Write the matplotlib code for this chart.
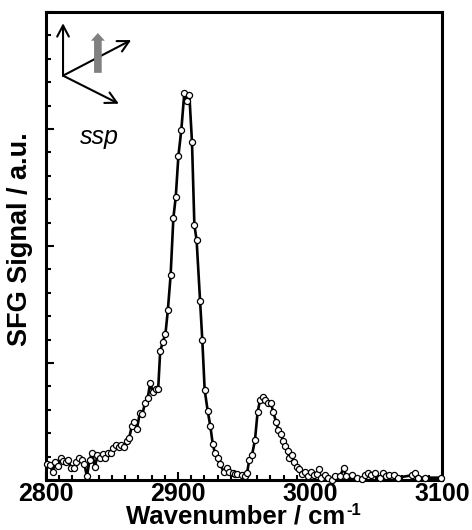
import numpy as np
import matplotlib
matplotlib.use("Agg")
import matplotlib.pyplot as plt
from matplotlib.patches import FancyArrowPatch
from matplotlib.ticker import MultipleLocator, NullFormatter

# SFG spectrum (ssp), signal in arbitrary units
wavenumber = [
    2801, 2803, 2805, 2807, 2809, 2811, 2813, 2815, 2817, 2819,
    2821, 2823, 2825, 2827, 2829, 2831, 2833, 2835, 2837, 2839,
    2841, 2843, 2845, 2847, 2849, 2851, 2853, 2855, 2857, 2859,
    2861, 2863, 2865, 2867, 2869, 2871, 2873, 2875, 2877, 2879,
    2881, 2883, 2885, 2886.5, 2888.5, 2890.5, 2892.3, 2894.4, 2896.5, 2898.3,
    2900.3, 2902.5, 2904.8, 2906.6, 2908.6, 2910.6, 2912.4, 2914.1, 2916.7, 2918.4,
    2920.2, 2922.5, 2924.5, 2926.3, 2928, 2930, 2931.8, 2934.6, 2936.9, 2938.9,
    2941.4, 2943.4, 2945, 2948.5, 2950.5, 2952.3, 2954, 2956, 2958.3, 2960.3,
    2962.1, 2964.1, 2966.1, 2967.9, 2970.3, 2972.2, 2974.2, 2976, 2978, 2979.8,
    2981.3, 2983.1, 2984.3, 2986.4, 2988.1, 2989.9, 2991.9, 2993.9, 2996.4, 2998.2,
    3001, 3003, 3005, 3006.6, 3008.3, 3011, 3013.7, 3016.5, 3019.3, 3022.5,
    3025.5, 3027.3, 3031.8, 3035.6, 3039.4, 3042, 3043.8, 3046.3, 3049.6, 3053.1,
    3055.6, 3057.6, 3060.1, 3063.9, 3066.4, 3077, 3079.5, 3082, 3087.4, 3099.2,
]
signal = [
    0.14, 0.13, 0.07, 0.15, 0.12, 0.19, 0.16, 0.15, 0.17, 0.10,
    0.10, 0.15, 0.19, 0.17, 0.14, 0.03, 0.17, 0.23, 0.11, 0.21,
    0.19, 0.22, 0.19, 0.23, 0.23, 0.27, 0.30, 0.28, 0.30, 0.28,
    0.33, 0.36, 0.46, 0.50, 0.44, 0.57, 0.56, 0.66, 0.70, 0.83,
    0.75, 0.78, 0.78, 1.10, 1.18, 1.25, 1.45, 1.75, 2.24, 2.42,
    2.77, 2.99, 3.31, 3.24, 3.29, 2.89, 2.18, 2.05, 1.53, 1.20,
    0.77, 0.59, 0.46, 0.31, 0.23, 0.19, 0.14, 0.07, 0.10, 0.07,
    0.06, 0.05, 0.05, 0.04, 0.03, 0.06, 0.17, 0.21, 0.34, 0.58,
    0.68, 0.71, 0.68, 0.66, 0.66, 0.58, 0.50, 0.43, 0.39, 0.33,
    0.29, 0.25, 0.19, 0.21, 0.15, 0.11, 0.09, 0.05, 0.07, 0.03,
    0.07, 0.04, 0.05, 0.09, 0.02, 0.04, 0.02, 0.00, 0.03, 0.03,
    0.10, 0.03, 0.04, 0.02, 0.01, 0.04, 0.06, 0.04, 0.06, 0.02,
    0.06, 0.03, 0.04, 0.04, 0.02, 0.04, 0.06, 0.02, 0.02, 0.02,
]

plt.rcParams["font.family"] = ["Liberation Sans", "DejaVu Sans"]

fig = plt.figure(figsize=(4.72, 5.30), dpi=100)
ax = fig.add_axes([46 / 472, 50 / 530, 396 / 472, 468 / 530])

ax.plot(wavenumber, signal, color="black", lw=1.9, marker="o", ms=4.4,
        mfc="white", mec="black", mew=0.9, clip_on=False, zorder=5)

ax.set_xlim(2800, 3100)
ax.set_ylim(0, 4)
ax.xaxis.set_major_locator(MultipleLocator(100))
ax.xaxis.set_minor_locator(MultipleLocator(10))
ax.yaxis.set_major_locator(MultipleLocator(1))
ax.yaxis.set_minor_locator(MultipleLocator(0.2))
ax.yaxis.set_major_formatter(NullFormatter())

ax.tick_params(which="both", direction="in", width=1.5, top=False, right=False)
ax.tick_params(which="major", length=6, pad=1.5, labelsize=18)
ax.tick_params(which="minor", length=3.3)
for lab in ax.get_xticklabels():
    lab.set_fontweight("bold")
for s in ax.spines.values():
    s.set_linewidth(2.2)

ax.set_xlabel("Wavenumber / cm", fontsize=18.5, fontweight="bold")
ax.xaxis.set_label_coords(0.48, -0.052)
ax.set_ylabel("SFG Signal / a.u.", fontsize=19.5, fontweight="bold")
ax.yaxis.set_label_coords(-0.033, 0.515)

# lab-frame axes sketch
origin = (0.043, 0.864)
for end in [(0.043, 0.976), (0.215, 0.940), (0.184, 0.804)]:
    ax.add_patch(FancyArrowPatch(origin, end, transform=ax.transAxes,
                                 arrowstyle="->,head_length=0.8,head_width=0.42",
                                 mutation_scale=10, lw=1.5, color="black",
                                 shrinkA=0, shrinkB=0))
ax.add_patch(FancyArrowPatch((0.131, 0.870), (0.131, 0.955), transform=ax.transAxes,
                             arrowstyle="simple,head_length=0.55,head_width=1.0,tail_width=0.55",
                             mutation_scale=10, lw=0, color="#808080",
                             shrinkA=0, shrinkB=0, zorder=3))
ax.text(0.136, 0.732, "ssp", transform=ax.transAxes, fontsize=18, style="italic",
        ha="center", va="center")

# superscript -1 placed right after the x label
fig.canvas.draw()
bb = ax.xaxis.label.get_window_extent()
fig.text((bb.x1 + 1) / 472, (bb.y1 + 1) / 530, "-1", fontsize=12,
         fontweight="bold", ha="left", va="top")

fig.savefig("out.png", dpi=100)
